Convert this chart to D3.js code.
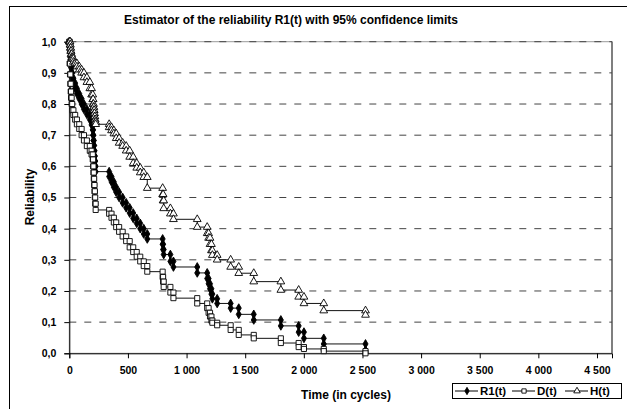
<!DOCTYPE html>
<meta charset="utf-8">

<style>
    body { margin: 0; background: #fff; }
    text { font-family: Arial, "Liberation Sans", sans-serif; font-weight: bold; }
</style>

<script src="https://d3js.org/d3.v7.min.js"></script>

<div id="my_dataviz"></div>

<script>
    // event times (cycles) and estimator values after each event
    var times = [0, 3, 6, 9, 12, 15, 20, 25, 35, 50, 65, 85, 105, 125, 150, 175, 190, 200, 203, 206, 209, 212, 215, 218, 221, 225,
        340, 360, 380, 400, 425, 455, 485, 515, 545, 575, 605, 635, 665, 796, 800, 805, 862, 888, 1091,
        1176, 1188, 1200, 1212, 1220, 1261, 1376, 1445, 1573, 1804, 1956, 2001, 2170, 2526];

    var r1 = [1, .983, .967, .95, .933, .917, .90, .883, .867, .85, .833, .817, .80, .783, .767, .75, .733, .717, .70, .683, .667, .65, .633, .617, .60, .583,
        .567, .55, .533, .517, .50, .483, .467, .45, .433, .417, .40, .383, .367, .35, .333, .317, .295, .277, .258,
        .24, .223, .207, .19, .175, .16, .145, .125, .107, .088, .068, .048, .03, .01];

    var dLow = [1, .93, .895, .865, .84, .82, .80, .78, .765, .75, .735, .72, .70, .683, .665, .65, .638, .622, .60, .58, .56, .54, .52, .50, .48, .46,
        .448, .435, .42, .405, .39, .375, .36, .34, .325, .31, .295, .28, .262, .245, .23, .213, .195, .177, .16,
        .145, .13, .118, .105, .098, .09, .075, .059, .048, .033, .02, .014, .007, 0];

    var hUp = [1, 1, .99, .98, .97, .96, .95, .945, .935, .93, .92, .91, .90, .885, .87, .85, .83, .815, .80, .79, .78, .77, .76, .75, .742, .735,
        .725, .715, .705, .69, .675, .665, .65, .63, .61, .595, .58, .565, .53, .51, .49, .465, .448, .43, .405,
        .385, .37, .35, .33, .315, .30, .277, .257, .23, .203, .181, .16, .137, .123];

    var xTicks = [0, 500, 1000, 1500, 2000, 2500, 3000, 3500, 4000, 4500];
    var yTicks = [0, .1, .2, .3, .4, .5, .6, .7, .8, .9, 1];
    var seriesNames = ["R1(t)", "D(t)", "H(t)"];

    var W = 627, H = 409;
    var margin = { top: 41.7, left: 69.3 },
        width = 542.7,
        height = 311.6;

    var svg = d3.select("#my_dataviz")
        .append("svg")
        .attr("width", W)
        .attr("height", H);

    // chart area frame
    svg.append("rect")
        .attr("x", 9.5).attr("y", 6.5)
        .attr("width", 700).attr("height", 500)
        .attr("fill", "#fff").attr("stroke", "#000");

    // title
    svg.append("text")
        .attr("x", 291).attr("y", 24)
        .attr("text-anchor", "middle")
        .style("font-size", "12px")
        .text("Estimator of the reliability R1(t) with 95% confidence limits");

    var g = svg.append("g")
        .attr("transform", "translate(" + margin.left + "," + margin.top + ")");

    var x = d3.scaleLinear().domain([0, 4628]).range([0, width]);
    var y = d3.scaleLinear().domain([0, 1]).range([height, 0]);

    // plot area border
    g.append("rect")
        .attr("width", width).attr("height", height)
        .attr("fill", "none").attr("stroke", "#999");
    g.append("line")
        .attr("x1", width).attr("x2", width).attr("y1", 0).attr("y2", height)
        .attr("stroke", "#333");

    // dashed gridlines
    g.selectAll(".grid")
        .data(yTicks.filter(function(d) { return d > 0; }))
        .enter()
        .append("line")
        .attr("x1", 0).attr("x2", width)
        .attr("y1", function(d) { return y(d); })
        .attr("y2", function(d) { return y(d); })
        .attr("stroke", "#444")
        .attr("stroke-dasharray", "7,8");

    var loc = d3.formatLocale({ decimal: ",", thousands: " ", grouping: [3], currency: ["", ""] });
    var fmtX = loc.format(",");

    var xAxis = g.append("g")
        .attr("transform", "translate(0," + height + ")")
        .call(d3.axisBottom(x).tickValues(xTicks).tickSize(5).tickPadding(8).tickFormat(fmtX));
    var yAxis = g.append("g")
        .call(d3.axisLeft(y).tickValues(yTicks).tickSize(5).tickPadding(8)
            .tickFormat(function(d) { return d.toFixed(1).replace(".", ","); }));

    [xAxis, yAxis].forEach(function(a) {
        a.select(".domain").attr("stroke", "#000");
        a.selectAll("line").attr("stroke", "#000");
        a.selectAll("text")
            .style("font-size", "10.5px")
            .style("font-family", "Arial, 'Liberation Sans', sans-serif")
            .style("font-weight", "bold")
            .attr("fill", "#000");
    });

    // axis titles
    svg.append("text")
        .attr("x", 346).attr("y", 399)
        .attr("text-anchor", "middle")
        .style("font-size", "12px")
        .text("Time (in cycles)");
    svg.append("text")
        .attr("transform", "translate(34,197) rotate(-90)")
        .attr("text-anchor", "middle")
        .style("font-size", "12px")
        .text("Reliability");

    // step points: at each event time the value before and after
    function stepPoints(vals) {
        var pts = [[times[0], vals[0]]];
        for (var i = 1; i < times.length; i++) {
            pts.push([times[i], vals[i - 1]]);
            pts.push([times[i], vals[i]]);
        }
        return pts;
    }

    var line = d3.line()
        .x(function(d) { return x(d[0]); })
        .y(function(d) { return y(d[1]); });

    var styles = [
        { vals: r1, sym: d3.symbolDiamond, size: 22, fill: "#000" },
        { vals: dLow, sym: d3.symbolSquare, size: 26, fill: "#fff" },
        { vals: hUp, sym: d3.symbolTriangle, size: 26, fill: "#fff" }
    ];

    styles.forEach(function(s) {
        var pts = stepPoints(s.vals);
        g.append("path")
            .datum(pts)
            .attr("d", line)
            .attr("fill", "none")
            .attr("stroke", "#111")
            .attr("stroke-width", 1);
        g.selectAll(null)
            .data(pts)
            .enter()
            .append("path")
            .attr("d", d3.symbol().type(s.sym).size(s.size))
            .attr("transform", function(d) { return "translate(" + x(d[0]) + "," + y(d[1]) + ")"; })
            .attr("fill", s.fill)
            .attr("stroke", "#000")
            .attr("stroke-width", 0.9);
    });

    // legend
    var lg = svg.append("g").attr("transform", "translate(452,383)");
    lg.append("rect")
        .attr("x", 0.5).attr("y", 0.5)
        .attr("width", 169).attr("height", 15)
        .attr("fill", "#fff").attr("stroke", "#000");
    var legX = [3, 60, 113];
    seriesNames.forEach(function(name, i) {
        var s = styles[i];
        var e = lg.append("g").attr("transform", "translate(" + legX[i] + ",8)");
        e.append("line")
            .attr("x1", 0).attr("x2", 23)
            .attr("stroke", "#000");
        e.append("path")
            .attr("d", d3.symbol().type(s.sym).size(s.size * 0.7))
            .attr("transform", "translate(12,0)")
            .attr("fill", s.fill)
            .attr("stroke", "#000")
            .attr("stroke-width", 0.9);
        e.append("text")
            .attr("x", 25).attr("y", 4)
            .style("font-size", "11.5px")
            .text(name);
    });
</script>
